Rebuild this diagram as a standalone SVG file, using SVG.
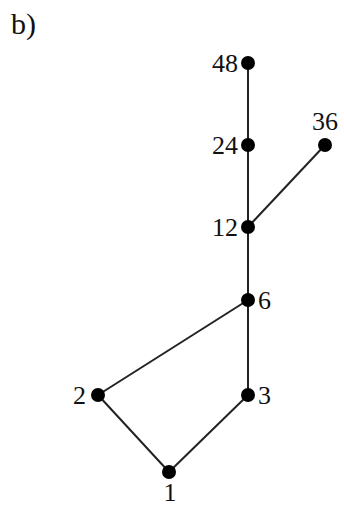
<svg xmlns="http://www.w3.org/2000/svg" width="344" height="508" viewBox="0 0 344 508">
<style>
text{font-family:"Liberation Serif","Times New Roman",serif;fill:#111;font-size:26px}
.e{stroke:#222;stroke-width:2;fill:none}
.n{fill:#000}
</style>
<rect width="344" height="508" fill="#fff"/>
<text x="11" y="34" style="font-size:30px">b)</text>
<g id="edges">
<line class="e" x1="248" y1="63" x2="248" y2="395"/>
<line class="e" x1="248" y1="227" x2="325" y2="145"/>
<line class="e" x1="248" y1="300" x2="98" y2="395"/>
<line class="e" x1="98" y1="395" x2="169" y2="472"/>
<line class="e" x1="248" y1="395" x2="169" y2="472"/>
</g>
<g id="n48"><circle class="n" cx="248" cy="63" r="7"/><text x="238" y="72" text-anchor="end">48</text></g>
<g id="n24"><circle class="n" cx="248" cy="145" r="7"/><text x="238" y="154" text-anchor="end">24</text></g>
<g id="n36"><circle class="n" cx="325" cy="145" r="7"/><text x="325" y="130" text-anchor="middle">36</text></g>
<g id="n12"><circle class="n" cx="248" cy="227" r="7"/><text x="238" y="236" text-anchor="end">12</text></g>
<g id="n6"><circle class="n" cx="248" cy="300" r="7"/><text x="258" y="309">6</text></g>
<g id="n2"><circle class="n" cx="98" cy="395" r="7"/><text x="86" y="404" text-anchor="end">2</text></g>
<g id="n3"><circle class="n" cx="248" cy="395" r="7"/><text x="258" y="404">3</text></g>
<g id="n1"><circle class="n" cx="169" cy="472" r="7"/><text x="170" y="501" text-anchor="middle">1</text></g>
</svg>
